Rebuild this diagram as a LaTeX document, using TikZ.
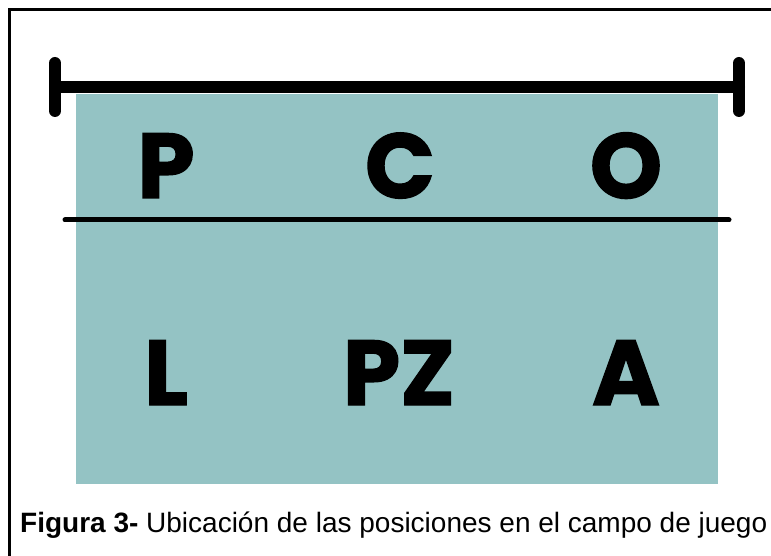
\documentclass[tikz,border=0pt]{standalone}
\usepackage{fontspec}
\setmainfont{Liberation Sans}
\newfontfamily\posfont{Poppins}[BoldFeatures={FakeBold=1.5}]
\definecolor{campo}{RGB}{148,195,196}

\begin{document}
\begin{tikzpicture}[x=1pt,y=-1pt,
  posicion/.style={font=\posfont\bfseries\fontsize{92}{92}\selectfont, inner sep=0pt, anchor=base},
  barra/.style={line width=12pt, line cap=round},
  linea/.style={line width=5pt, line cap=round}]
  \useasboundingbox (0,0) rectangle (771,556);
  \draw[line width=2.2pt] (9.5,556) -- (9.5,9.5) -- (771,9.5);
  \fill[campo] (76,94) rectangle (718,484);

  % barra superior
  \coordinate (izq) at (55,87);
  \coordinate (der) at (739,87);
  \draw[barra] (izq) -- (der);
  \draw[barra] ([yshift=-24]izq) -- ([yshift=24]izq);
  \draw[barra] ([yshift=-24]der) -- ([yshift=24]der);

  % red
  \coordinate (r1) at (65,220);
  \coordinate (r2) at (729,220);
  \draw[linea] (r1) -- (r2);

  \node[posicion] (P) at (166,198) {P};
  \node[posicion] (C) at (400,198) {C};
  \node[posicion] (O) at (626,198) {O};
  \node[posicion] (L) at (166,405) {L};
  \node[posicion] (PZ) at (399,405) {PZ};
  \node[posicion] (A) at (626,405) {A};

  \node[anchor=base west, inner sep=0pt, font=\fontsize{28}{28}\selectfont] (pie) at (20,532)
    {\textbf{Figura 3-} Ubicación de las posiciones en el campo de juego};
\end{tikzpicture}
\end{document}
